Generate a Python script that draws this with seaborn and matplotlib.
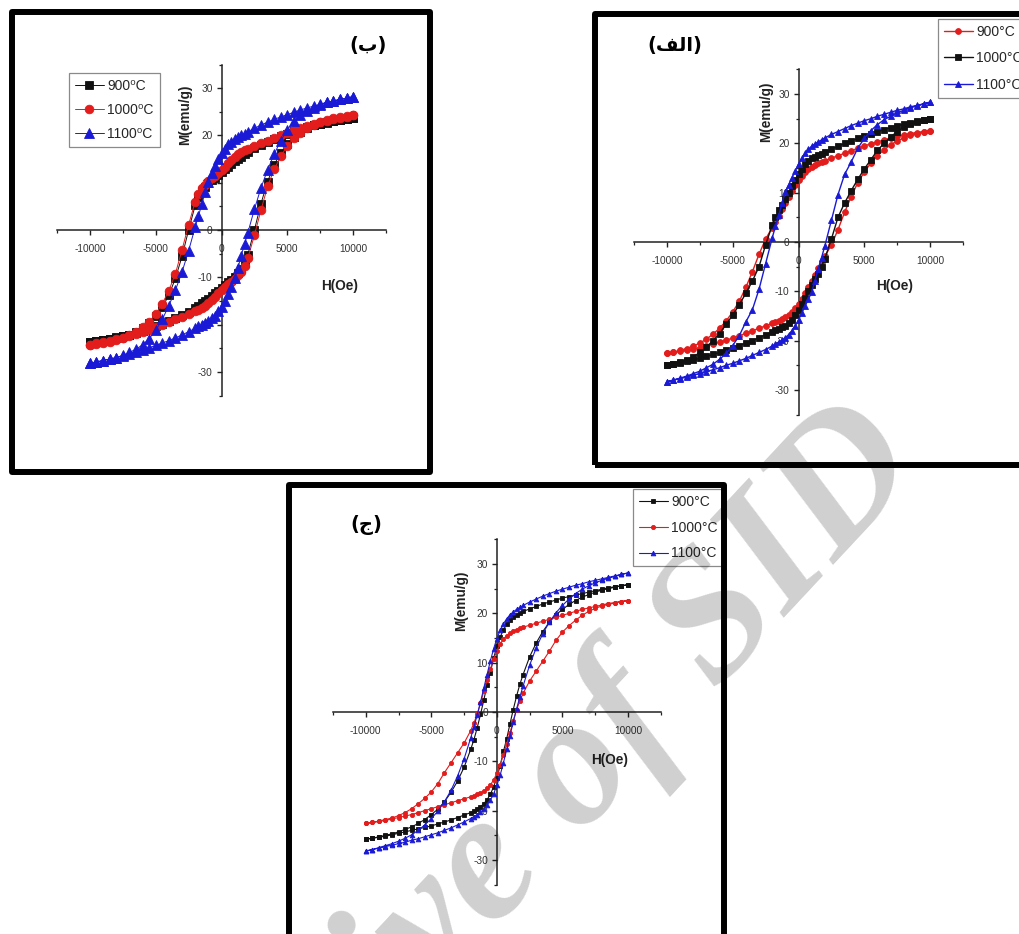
"""
Hysteresis loops M(H) for samples annealed at 900, 1000 and 1100 C
(three panels: alef, be, jim)
"""

import matplotlib
matplotlib.use('Agg')
import pandas as pd
import matplotlib.pyplot as plt
from matplotlib.patches import Rectangle
from matplotlib.ticker import MultipleLocator
import seaborn as sns

# ---------------- data ----------------
# field grid, descending branch (+10 kOe -> -10 kOe) and ascending branch
H_DOWN = [10000, 9500, 9000, 8500, 8000, 7500, 7000, 6500, 6000, 5500, 5000, 4500, 4000, 3500,
          3000, 2500, 2000, 1750, 1500, 1250, 1000, 750, 500, 250, 0, -250, -500, -750, -1000,
          -1250, -1500, -1750, -2000, -2500, -3000, -3500, -4000, -4500, -5000, -5500, -6000,
          -6500, -7000, -7500, -8000, -8500, -9000, -9500, -10000]
H_UP = [-10000, -9500, -9000, -8500, -8000, -7500, -7000, -6500, -6000, -5500, -5000, -4500, -4000,
        -3500, -3000, -2500, -2000, -1750, -1500, -1250, -1000, -750, -500, -250, 0, 250, 500, 750,
        1000, 1250, 1500, 1750, 2000, 2500, 3000, 3500, 4000, 4500, 5000, 5500, 6000, 6500, 7000,
        7500, 8000, 8500, 9000, 9500, 10000]

# panel (be) - top left
B_900_DOWN = [23.6, 23.4, 23.2, 23.0, 22.7, 22.4, 22.1, 21.7, 21.3, 20.9, 20.4, 19.9, 19.3, 18.7,
              18.0, 17.3, 16.5, 16.0, 15.5, 15.0, 14.5, 13.9, 13.3, 12.8, 12.3, 11.7, 11.1, 10.5,
              9.9, 9.1, 8.2, 6.9, 5.2, 0.0, -5.6, -10.2, -13.8, -16.3, -18.2, -19.6, -20.7, -21.5,
              -22.1, -22.5, -22.8, -23.1, -23.3, -23.5, -23.6]
B_900_UP = [-23.6, -23.4, -23.2, -23.0, -22.7, -22.4, -22.1, -21.7, -21.3, -20.9, -20.4, -19.9,
            -19.3, -18.7, -18.0, -17.3, -16.5, -16.0, -15.5, -15.0, -14.5, -13.9, -13.3, -12.8,
            -12.3, -11.7, -11.1, -10.5, -9.9, -9.1, -8.2, -6.9, -5.2, 0.0, 5.6, 10.2, 13.8, 16.3,
            18.2, 19.6, 20.7, 21.5, 22.1, 22.5, 22.8, 23.1, 23.3, 23.5, 23.6]
B_1000_DOWN = [24.3, 24.0, 23.7, 23.4, 23.1, 22.8, 22.4, 22.0, 21.6, 21.1, 20.6, 20.1, 19.5, 18.9,
               18.3, 17.7, 17.2, 16.9, 16.5, 16.0, 15.4, 14.8, 14.1, 13.4, 12.7, 12.1, 11.5, 10.9,
               10.3, 9.6, 8.8, 7.6, 6.0, 1.1, -4.2, -9.2, -12.8, -15.6, -17.8, -19.4, -20.6, -21.5,
               -22.2, -22.8, -23.2, -23.6, -23.9, -24.1, -24.3]
B_1000_UP = [-24.3, -24.0, -23.7, -23.4, -23.1, -22.8, -22.4, -22.0, -21.6, -21.1, -20.6, -20.1,
             -19.5, -18.9, -18.3, -17.7, -17.2, -16.9, -16.5, -16.0, -15.4, -14.8, -14.1, -13.4,
             -12.7, -12.1, -11.5, -10.9, -10.3, -9.6, -8.8, -7.6, -6.0, -1.1, 4.2, 9.2, 12.8, 15.6,
             17.8, 19.4, 20.6, 21.5, 22.2, 22.8, 23.2, 23.6, 23.9, 24.1, 24.3]
B_1100_DOWN = [28.2, 27.9, 27.6, 27.3, 27.0, 26.6, 26.2, 25.8, 25.4, 24.9, 24.4, 23.9, 23.4, 22.8,
               22.2, 21.5, 20.8, 20.4, 20.0, 19.6, 19.2, 18.7, 18.1, 17.2, 16.2, 15.0, 13.6, 12.0,
               10.2, 8.0, 5.4, 3.0, 0.6, -4.4, -8.9, -12.7, -16.0, -18.9, -21.2, -23.0, -24.3, -25.2,
               -25.9, -26.5, -27.0, -27.3, -27.6, -27.9, -28.2]
B_1100_UP = [-28.2, -27.9, -27.6, -27.3, -27.0, -26.6, -26.2, -25.8, -25.4, -24.9, -24.4, -23.9,
             -23.4, -22.8, -22.2, -21.5, -20.8, -20.4, -20.0, -19.6, -19.2, -18.7, -18.1, -17.2,
             -16.2, -15.0, -13.6, -12.0, -10.2, -8.0, -5.4, -3.0, -0.6, 4.4, 8.9, 12.7, 16.0, 18.9,
             21.2, 23.0, 24.3, 25.2, 25.9, 26.5, 27.0, 27.3, 27.6, 27.9, 28.2]

# panel (alef) - top right
A_900_DOWN = [22.6, 22.4, 22.2, 22.0, 21.7, 21.4, 21.1, 20.7, 20.3, 19.9, 19.5, 19.0, 18.5, 18.0,
              17.5, 17.0, 16.5, 16.3, 16.0, 15.7, 15.3, 14.8, 14.2, 13.4, 12.5, 11.5, 10.4, 9.2,
              7.9, 6.6, 5.2, 4.0, 2.9, 0.6, -2.5, -6.0, -9.2, -12.0, -14.2, -16.0, -17.5, -18.7,
              -19.7, -20.5, -21.1, -21.6, -22.0, -22.3, -22.6]
A_900_UP = [-22.6, -22.4, -22.2, -22.0, -21.7, -21.4, -21.1, -20.7, -20.3, -19.9, -19.5, -19.0,
            -18.5, -18.0, -17.5, -17.0, -16.5, -16.3, -16.0, -15.7, -15.3, -14.8, -14.2, -13.4,
            -12.5, -11.5, -10.4, -9.2, -7.9, -6.6, -5.2, -4.0, -2.9, -0.6, 2.5, 6.0, 9.2, 12.0,
            14.2, 16.0, 17.5, 18.7, 19.7, 20.5, 21.1, 21.6, 22.0, 22.3, 22.6]
A_1000_DOWN = [25.0, 24.8, 24.5, 24.2, 23.9, 23.6, 23.2, 22.8, 22.4, 22.0, 21.5, 21.0, 20.5, 20.0,
               19.4, 18.8, 18.2, 17.9, 17.6, 17.3, 17.0, 16.5, 15.8, 14.9, 13.8, 12.6, 11.3, 10.0,
               8.8, 7.6, 6.4, 5.0, 3.4, -0.6, -5.0, -7.9, -10.4, -12.7, -14.8, -16.7, -18.6, -20.0,
               -21.3, -22.4, -23.3, -23.9, -24.4, -24.7, -25.0]
A_1000_UP = [-25.0, -24.8, -24.5, -24.2, -23.9, -23.6, -23.2, -22.8, -22.4, -22.0, -21.5, -21.0,
             -20.5, -20.0, -19.4, -18.8, -18.2, -17.9, -17.6, -17.3, -17.0, -16.5, -15.8, -14.9,
             -13.8, -12.6, -11.3, -10.0, -8.8, -7.6, -6.4, -5.0, -3.4, 0.6, 5.0, 7.9, 10.4, 12.7,
             14.8, 16.7, 18.6, 20.0, 21.3, 22.4, 23.3, 23.9, 24.4, 24.7, 25.0]
A_1100_DOWN = [28.4, 28.0, 27.7, 27.4, 27.0, 26.7, 26.3, 25.9, 25.5, 25.0, 24.6, 24.1, 23.6, 23.0,
               22.4, 21.8, 21.1, 20.7, 20.3, 19.9, 19.4, 18.8, 18.0, 17.0, 15.8, 14.4, 13.0, 11.6,
               10.2, 7.9, 5.4, 3.2, 0.8, -4.4, -9.6, -13.7, -16.2, -19.0, -21.0, -22.6, -23.8, -24.8,
               -25.5, -26.2, -26.7, -27.2, -27.6, -28.0, -28.3]
A_1100_UP = [-28.4, -28.0, -27.7, -27.4, -27.0, -26.7, -26.3, -25.9, -25.5, -25.0, -24.6, -24.1,
             -23.6, -23.0, -22.4, -21.8, -21.1, -20.7, -20.3, -19.9, -19.4, -18.8, -18.0, -17.0,
             -15.8, -14.4, -13.0, -11.6, -10.2, -7.9, -5.4, -3.2, -0.8, 4.4, 9.6, 13.7, 16.2, 19.0,
             21.0, 22.6, 23.8, 24.8, 25.5, 26.2, 26.7, 27.2, 27.6, 28.0, 28.3]

# panel (jim) - bottom
C_900_DOWN = [25.8, 25.6, 25.4, 25.2, 24.9, 24.6, 24.3, 24.0, 23.7, 23.4, 23.1, 22.7, 22.3, 21.9,
              21.4, 20.9, 20.4, 20.1, 19.7, 19.2, 18.6, 17.8, 16.7, 15.2, 13.3, 10.9, 8.0, 5.4,
              2.4, -0.5, -3.2, -5.6, -7.6, -11.2, -14.0, -16.3, -18.2, -19.7, -20.8, -21.8, -22.6,
              -23.3, -23.8, -24.3, -24.7, -25.0, -25.3, -25.6, -25.8]
C_900_UP = [-25.8, -25.6, -25.4, -25.2, -24.9, -24.6, -24.3, -24.0, -23.7, -23.4, -23.1, -22.7,
            -22.3, -21.9, -21.4, -20.9, -20.4, -20.1, -19.7, -19.2, -18.6, -17.8, -16.7, -15.2,
            -13.3, -10.9, -8.0, -5.4, -2.4, 0.5, 3.2, 5.6, 7.6, 11.2, 14.0, 16.3, 18.2, 19.7,
            20.8, 21.8, 22.6, 23.3, 23.8, 24.3, 24.7, 25.0, 25.3, 25.6, 25.8]
C_1000_DOWN = [22.6, 22.4, 22.2, 22.0, 21.7, 21.4, 21.1, 20.8, 20.4, 20.0, 19.6, 19.2, 18.8, 18.4,
               18.0, 17.6, 17.2, 17.0, 16.7, 16.4, 16.0, 15.5, 14.8, 13.8, 12.4, 10.7, 8.7, 6.5,
               4.2, 1.8, -0.5, -2.2, -3.8, -6.3, -8.3, -10.3, -12.3, -14.5, -16.2, -17.5, -18.6,
               -19.6, -20.4, -21.0, -21.5, -21.8, -22.1, -22.4, -22.6]
C_1000_UP = [-22.6, -22.4, -22.2, -22.0, -21.7, -21.4, -21.1, -20.8, -20.4, -20.0, -19.6, -19.2,
             -18.8, -18.4, -18.0, -17.6, -17.2, -17.0, -16.7, -16.4, -16.0, -15.5, -14.8, -13.8,
             -12.4, -10.7, -8.7, -6.5, -4.2, -1.8, 0.5, 2.2, 3.8, 6.3, 8.3, 10.3, 12.3, 14.5,
             16.2, 17.5, 18.6, 19.6, 20.4, 21.0, 21.5, 21.8, 22.1, 22.4, 22.6]
C_1100_DOWN = [28.2, 27.9, 27.6, 27.3, 27.0, 26.7, 26.4, 26.0, 25.7, 25.3, 24.9, 24.5, 24.0, 23.5,
               22.9, 22.3, 21.6, 21.2, 20.8, 20.3, 19.7, 18.9, 17.9, 16.6, 14.9, 12.8, 10.3, 7.6,
               4.8, 2.0, -0.6, -3.0, -5.3, -9.5, -13.0, -15.9, -18.2, -20.1, -21.6, -22.9, -24.0,
               -24.9, -25.6, -26.2, -26.7, -27.1, -27.5, -27.9, -28.2]
C_1100_UP = [-28.2, -27.9, -27.6, -27.3, -27.0, -26.7, -26.4, -26.0, -25.7, -25.3, -24.9, -24.5,
             -24.0, -23.5, -22.9, -22.3, -21.6, -21.2, -20.8, -20.3, -19.7, -18.9, -17.9, -16.6,
             -14.9, -12.8, -10.3, -7.6, -4.8, -2.0, 0.6, 3.0, 5.3, 9.5, 13.0, 15.9, 18.2, 20.1,
             21.6, 22.9, 24.0, 24.9, 25.6, 26.2, 26.7, 27.1, 27.5, 27.9, 28.2]

LABELS_B = ['900\u2070C', '1000\u2070C', '1100\u2070C']
LABELS_AC = ['900\u00b0C', '1000\u00b0C', '1100\u00b0C']

# panel titles (Arabic letters written in visual order with presentation forms)
TITLE_B = '(\u0628)'
TITLE_A = '(\ufed2\ufedf\u0627)'
TITLE_C = '(\u062c)'

# ---------------- style ----------------
BLACK = '#111111'
RED = '#e31c1c'
BLUE = '#1a1ad6'

sns.set_style('ticks')
plt.rcParams['font.family'] = ['Liberation Sans', 'DejaVu Sans']
plt.rcParams['axes.unicode_minus'] = False

W, H = 1019, 934
fig = plt.figure(figsize=(W / 100, H / 100), dpi=100)
fig.patch.set_facecolor('white')


def px_rect(left, top, right, bottom):
    # pixel box (from top-left corner) -> figure fraction
    return [left / W, 1 - bottom / H, (right - left) / W, (bottom - top) / H]


def draw_panel(box, series, ms, lw, legend_xy, spacing, ylab_xy, xlab_xy):
    ax = fig.add_axes(px_rect(*box))
    ax.patch.set_visible(False)

    for label, m_down, m_up, color, marker in series:
        df = pd.DataFrame({'H': H_DOWN + H_UP, 'M': m_down + m_up})
        sns.lineplot(data=df, x='H', y='M', sort=False, estimator=None, ax=ax,
                     color=color, marker=marker, markersize=ms[marker],
                     markeredgecolor=color, markeredgewidth=0.6, linewidth=lw, label=label)

    ax.set_xlim(-12500, 12500)
    ax.set_ylim(-35, 35)
    for s in ['top', 'right']:
        ax.spines[s].set_visible(False)
    for s in ['left', 'bottom']:
        ax.spines[s].set_position(('data', 0))
        ax.spines[s].set_linewidth(1.1)
        ax.spines[s].set_color('#222222')
        ax.spines[s].set_zorder(1.8)

    ax.xaxis.set_major_locator(MultipleLocator(5000))
    ax.xaxis.set_minor_locator(MultipleLocator(2500))
    ax.yaxis.set_major_locator(MultipleLocator(10))
    ax.yaxis.set_minor_locator(MultipleLocator(5))
    ax.tick_params(which='major', direction='out', length=3.5, width=1.0, color='#222222',
                   labelsize=7.3, labelcolor='#333333')
    ax.tick_params(axis='x', which='major', pad=6.5)
    ax.tick_params(axis='y', which='major', pad=3)
    ax.tick_params(which='minor', direction='out', length=2.2, width=0.9, color='#222222')

    ax.set_ylabel('M(emu/g)', fontsize=9.8, fontweight='bold', color='#222222')
    ax.yaxis.set_label_coords(*ylab_xy)
    ax.set_xlabel('H(Oe)', fontsize=9.8, fontweight='bold', color='#222222')
    ax.xaxis.set_label_coords(*xlab_xy)

    handles, labels = ax.get_legend_handles_labels()
    leg = ax.legend(handles, labels, loc='upper left',
                    bbox_to_anchor=(legend_xy[0] / W, 1 - legend_xy[1] / H),
                    bbox_transform=fig.transFigure, fontsize=10, frameon=True,
                    fancybox=False, framealpha=1, edgecolor='#8a8a8a', borderaxespad=0,
                    borderpad=0.42, labelspacing=spacing, handlelength=2.1, handletextpad=0.25)
    leg.get_frame().set_linewidth(0.9)
    return ax


# panel (be)
draw_panel((57, 64.5, 386, 395.5),
           [(LABELS_B[0], B_900_DOWN, B_900_UP, BLACK, 's'),
            (LABELS_B[1], B_1000_DOWN, B_1000_UP, RED, 'o'),
            (LABELS_B[2], B_1100_DOWN, B_1100_UP, BLUE, '^')],
           {'s': 5.5, 'o': 6.2, '^': 6.8}, 0.7,
           (69, 73), 0.72, (0.41, 0.847), (0.86, 0.352))

# panel (alef)
draw_panel((634, 69.4, 963, 414.6),
           [(LABELS_AC[0], A_900_DOWN, A_900_UP, RED, 'o'),
            (LABELS_AC[1], A_1000_DOWN, A_1000_UP, BLACK, 's'),
            (LABELS_AC[2], A_1100_DOWN, A_1100_UP, BLUE, '^')],
           {'s': 3.8, 'o': 4.2, '^': 4.6}, 1.0,
           (938, 19), 0.9, (0.4225, 0.877), (0.793, 0.393))

# panel (jim)
draw_panel((333, 539.4, 660.75, 884.6),
           [(LABELS_AC[0], C_900_DOWN, C_900_UP, BLACK, 's'),
            (LABELS_AC[1], C_1000_DOWN, C_1000_UP, RED, 'o'),
            (LABELS_AC[2], C_1100_DOWN, C_1100_UP, BLUE, '^')],
           {'s': 2.8, 'o': 3.0, '^': 3.4}, 0.8,
           (633, 489), 0.85, (0.412, 0.8215), (0.843, 0.381))

# panel titles
for txt, (x, y) in [(TITLE_B, (368, 45)), (TITLE_A, (675, 46)), (TITLE_C, (366, 525))]:
    fig.text(x / W, 1 - y / H, txt, ha='center', va='center', fontsize=14,
             fontweight='bold', family=['DejaVu Sans'], color='black')

# thick black frames around the panels
for left, top, right, bottom in [(11.5, 12, 430, 471.5), (594.5, 13.5, 1030, 465),
                                 (289, 485, 723.5, 945)]:
    fig.add_artist(Rectangle((left / W, 1 - bottom / H), (right - left) / W, (bottom - top) / H,
                             transform=fig.transFigure, fill=False, edgecolor='black',
                             linewidth=4.3, joinstyle='round', zorder=20))

# watermark
fig.text(537 / W, 1 - 893 / H, 'Archive of SID', rotation=47, rotation_mode='anchor',
         ha='center', va='baseline', fontsize=133, family=['Liberation Serif'],
         fontweight='bold', fontstyle='italic', color=(0, 0, 0, 0.19), zorder=30)

fig.savefig('out.png', dpi=100)
